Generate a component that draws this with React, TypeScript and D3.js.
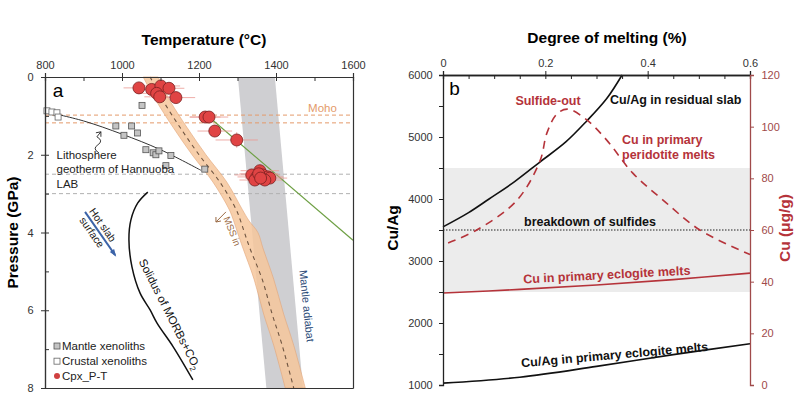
import React, { useEffect, useRef } from 'react';
import * as d3 from 'd3';

// ---- panel a data ----
const tempTicks = [800, 1000, 1200, 1400, 1600];
const pressTicks = [0, 2, 4, 6, 8];

const cpxT = [1044, 1077, 1101, 1122, 1090, 1098, 1140, 1216, 1226, 1241, 1298, 1358, 1337, 1350, 1366, 1379, 1384, 1345, 1371, 1355, 1360];
const cpxP = [0.28, 0.32, 0.23, 0.29, 0.42, 0.51, 0.53, 1.03, 1.03, 1.39, 1.62, 2.41, 2.52, 2.57, 2.52, 2.57, 2.6, 2.65, 2.65, 2.49, 2.6];
const cpxTErr = [40, 45, 50, 40, 45, 40, 50, 40, 50, 45, 55, 50, 45, 50, 45, 40, 45, 40, 45, 50, 40];
const cpxPErr = [0.15, 0.12, 0.15, 0.12, 0.15, 0.15, 0.12, 0.12, 0.15, 0.15, 0.2, 0.15, 0.12, 0.15, 0.12, 0.15, 0.12, 0.15, 0.12, 0.15, 0.12];

const mantleXenoT = [1052, 984, 1025, 1040, 1005, 1062, 1081, 1088, 1096, 1127, 1114, 1215];
const mantleXenoP = [0.73, 1.26, 1.26, 1.44, 1.5, 1.87, 1.95, 2.0, 1.9, 2.02, 2.28, 2.37];
const crustXenoT = [805, 818, 831, 834];
const crustXenoP = [0.87, 0.9, 0.92, 1.03];

const geothermT = [805, 900, 1000, 1100, 1205];
const geothermP = [0.9, 1.13, 1.47, 1.87, 2.4];

const solidusT = [1067, 1041, 1023, 1018, 1026, 1047, 1073, 1091, 1133, 1184];
const solidusP = [2.96, 3.24, 3.68, 4.19, 4.89, 5.56, 5.99, 6.33, 6.94, 7.79];

const mssP = [0, 0.6, 1.3, 2.0, 2.7, 3.4, 3.7, 4.0, 4.4, 5.2, 6.1, 6.9, 8.0];
const mssCenter = [1073, 1106, 1151, 1200, 1254, 1296, 1308, 1318, 1332, 1364, 1390, 1416, 1446];
const mssLeft = [1055, 1088, 1133, 1182, 1236, 1278, 1290, 1300, 1314, 1343, 1368, 1394, 1424];
const mssRight = [1094, 1124, 1169, 1218, 1272, 1312, 1330, 1353, 1366, 1394, 1420, 1446, 1476];

const adiabatP = [0, 8];
const adiabatLeft = [1301, 1375];
const adiabatRight = [1397, 1470];

const greenT = [1226, 1600];
const greenP = [1.03, 4.2];

const mohoP = [0.98, 1.18];
const labP = [2.5, 3.0];

// ---- panel b data ----
const meltTicks = [0, 0.2, 0.4, 0.6];
const cuTicks = [0, 20, 40, 60, 80, 100, 120];

const residualX = [0, 0.05, 0.09, 0.14, 0.19, 0.24, 0.28, 0.32, 0.35];
const residualCuAg = [3550, 3780, 4000, 4280, 4600, 4920, 5250, 5620, 6000];

const peridotiteX = [0.01, 0.066, 0.145, 0.19, 0.203, 0.223, 0.244, 0.281, 0.32, 0.371, 0.43, 0.502, 0.6];
const peridotiteCu = [55, 60, 71.6, 87, 97.5, 105, 106.8, 102.6, 94.8, 82, 71.6, 60, 50.5];

const eclogiteX = [0, 0.15, 0.3, 0.45, 0.6];
const eclogiteCu = [35.6, 37.0, 38.7, 40.8, 43.3];
const eclogiteCuAg = [1030, 1125, 1300, 1490, 1665];

const sulfideBand = [2500, 4500];
const sulfideBreakdown = 3500;

const FONT = '"Liberation Sans", Arial, sans-serif';
const RED = '#b5333a';
const AXRED = '#a04a4a';

export default function App() {
  const svgRef = useRef<SVGSVGElement>(null);

  useEffect(() => {
    const svg = d3.select(svgRef.current);
    svg.selectAll('*').remove();
    svg.style('font-family', FONT);

    // ============ PANEL A ============
    const xA = d3.scaleLinear().domain([800, 1600]).range([45, 353]);
    const yA = d3.scaleLinear().domain([0, 8]).range([77, 388]);
    const a = svg.append('g');

    // mantle adiabat band
    const bandA = d3
      .area<number>()
      .y((_, i) => yA(adiabatP[i]))
      .x0((_, i) => xA(adiabatLeft[i]))
      .x1((_, i) => xA(adiabatRight[i]));
    a.append('path').attr('d', bandA(adiabatP)).attr('fill', '#cfcfd2');

    // dashed reference lines
    mohoP.forEach((p) => {
      a.append('line')
        .attr('x1', xA(800)).attr('x2', xA(1600))
        .attr('y1', yA(p)).attr('y2', yA(p))
        .attr('stroke', '#e49a6a').attr('stroke-width', 1)
        .attr('stroke-dasharray', '4,3');
    });
    labP.forEach((p) => {
      a.append('line')
        .attr('x1', xA(800)).attr('x2', xA(1600))
        .attr('y1', yA(p)).attr('y2', yA(p))
        .attr('stroke', '#b0b0b0').attr('stroke-width', 1)
        .attr('stroke-dasharray', '4,3');
    });

    // MSS-in band
    const mssArea = d3
      .area<number>()
      .curve(d3.curveCatmullRom)
      .y((_, i) => yA(mssP[i]))
      .x0((_, i) => xA(mssLeft[i]))
      .x1((_, i) => xA(mssRight[i]));
    a.append('path')
      .attr('d', mssArea(mssP))
      .attr('fill', '#f6c79c')
      .attr('fill-opacity', 0.85)
      .attr('stroke', '#e3a577')
      .attr('stroke-width', 0.6);
    const mssLine = d3
      .line<number>()
      .curve(d3.curveCatmullRom)
      .x((_, i) => xA(mssCenter[i]))
      .y((_, i) => yA(mssP[i]));
    a.append('path')
      .attr('d', mssLine(mssP))
      .attr('fill', 'none')
      .attr('stroke', '#6e5440')
      .attr('stroke-width', 1.1)
      .attr('stroke-dasharray', '4,4');

    // green adiabat line
    a.append('line')
      .attr('x1', xA(greenT[0])).attr('y1', yA(greenP[0]))
      .attr('x2', xA(greenT[1])).attr('y2', yA(greenP[1]))
      .attr('stroke', '#6d9f43').attr('stroke-width', 1.2);

    // geotherm
    const geoLine = d3
      .line<number>()
      .curve(d3.curveCatmullRom)
      .x((_, i) => xA(geothermT[i]))
      .y((_, i) => yA(geothermP[i]));
    a.append('path')
      .attr('d', geoLine(geothermT))
      .attr('fill', 'none')
      .attr('stroke', '#333')
      .attr('stroke-width', 1);

    // solidus
    const solLine = d3
      .line<number>()
      .curve(d3.curveCatmullRom)
      .x((_, i) => xA(solidusT[i]))
      .y((_, i) => yA(solidusP[i]));
    a.append('path')
      .attr('d', solLine(solidusT))
      .attr('fill', 'none')
      .attr('stroke', '#111')
      .attr('stroke-width', 1.5);

    // xenoliths
    const sq = 6;
    crustXenoT.forEach((t, i) => {
      a.append('rect')
        .attr('x', xA(t) - sq / 2).attr('y', yA(crustXenoP[i]) - sq / 2)
        .attr('width', sq).attr('height', sq)
        .attr('fill', '#fff').attr('stroke', '#666').attr('stroke-width', 0.8);
    });
    mantleXenoT.forEach((t, i) => {
      a.append('rect')
        .attr('x', xA(t) - sq / 2).attr('y', yA(mantleXenoP[i]) - sq / 2)
        .attr('width', sq).attr('height', sq)
        .attr('fill', '#c4c4c4').attr('stroke', '#555').attr('stroke-width', 0.8);
    });

    // cpx error bars + points
    cpxT.forEach((t, i) => {
      a.append('line')
        .attr('x1', xA(t - cpxTErr[i])).attr('x2', xA(t + cpxTErr[i]))
        .attr('y1', yA(cpxP[i])).attr('y2', yA(cpxP[i]))
        .attr('stroke', '#ec9a94').attr('stroke-width', 1).attr('opacity', 0.8);
      a.append('line')
        .attr('x1', xA(t)).attr('x2', xA(t))
        .attr('y1', yA(cpxP[i] - cpxPErr[i])).attr('y2', yA(cpxP[i] + cpxPErr[i]))
        .attr('stroke', '#ec9a94').attr('stroke-width', 1).attr('opacity', 0.8);
    });
    cpxT.forEach((t, i) => {
      a.append('circle')
        .attr('cx', xA(t)).attr('cy', yA(cpxP[i])).attr('r', 6)
        .attr('fill', '#e04444').attr('stroke', '#7a1f1f').attr('stroke-width', 0.8);
    });

    // axes A
    const axTop = a.append('g').attr('transform', `translate(0,${yA(0)})`);
    axTop.call(d3.axisTop(xA).tickValues(tempTicks).tickSize(4).tickFormat(d3.format('d')));
    axTop.call((g) => g.selectAll('.tick text').attr('font-size', 11).attr('fill', '#333').attr('dy', '-0.1em'));
    const axTopMinor = a.append('g').attr('transform', `translate(0,${yA(0)})`);
    axTopMinor.call(d3.axisBottom(xA).tickValues(d3.range(800, 1601, 100)).tickSize(4).tickFormat(() => ''));

    const axLeft = a.append('g').attr('transform', `translate(${xA(800)},0)`);
    axLeft.call(d3.axisLeft(yA).tickValues(pressTicks).tickSize(4).tickFormat(d3.format('d')));
    axLeft.call((g) => g.selectAll('.tick text').attr('font-size', 11).attr('fill', '#333').attr('dx', '-0.4em'));
    const axLeftMinor = a.append('g').attr('transform', `translate(${xA(800)},0)`);
    axLeftMinor.call(d3.axisRight(yA).tickValues(d3.range(0, 9, 1)).tickSize(4).tickFormat(() => ''));

    const axBottom = a.append('g').attr('transform', `translate(0,${yA(8)})`);
    axBottom.call(d3.axisBottom(xA).tickValues([]).tickSizeOuter(0));
    const axRight = a.append('g').attr('transform', `translate(${xA(1600)},0)`);
    axRight.call(d3.axisRight(yA).tickValues([]).tickSizeOuter(0));
    a.selectAll('.domain').attr('stroke', '#333').attr('stroke-width', 1.2);
    a.selectAll('.tick line').attr('stroke', '#333');

    // panel a text
    a.append('text').attr('x', 204).attr('y', 45).attr('text-anchor', 'middle')
      .attr('font-size', 15.5).attr('font-weight', 'bold').text('Temperature (°C)');
    a.append('text').attr('transform', `translate(18,${yA(4)}) rotate(-90)`).attr('text-anchor', 'middle')
      .attr('font-size', 15.5).attr('font-weight', 'bold').text('Pressure (GPa)');
    a.append('text').attr('x', xA(820)).attr('y', yA(0) + 20).attr('font-size', 19).text('a');
    a.append('text').attr('x', xA(1558)).attr('y', yA(0.91)).attr('text-anchor', 'end')
      .attr('font-size', 11.5).attr('fill', '#e49a6a').text('Moho');
    a.append('text').attr('x', xA(830)).attr('y', yA(2.11)).attr('font-size', 11.5).attr('fill', '#222').text('Lithosphere');
    a.append('text').attr('x', xA(830)).attr('y', yA(2.46)).attr('font-size', 11.5).attr('fill', '#222').text('geotherm of Hannuoba');
    a.append('text').attr('x', xA(830)).attr('y', yA(2.86)).attr('font-size', 11.5).attr('fill', '#222').text('LAB');

    // squiggle arrow for geotherm
    const sx = xA(940), sy = yA(1.95);
    a.append('path')
      .attr('d', `M${sx},${sy} q-7,-4 -1,-8 q6,-4 -1,-8 l4,-5`)
      .attr('fill', 'none').attr('stroke', '#222').attr('stroke-width', 0.9);
    a.append('path')
      .attr('d', `M${sx + 2},${sy - 21} l-5,1 M${sx + 2},${sy - 21} l0,5`)
      .attr('fill', 'none').attr('stroke', '#222').attr('stroke-width', 0.9);

    // hot slab arrow
    const hx1 = xA(904), hy1 = yA(3.47), hx2 = xA(982), hy2 = yA(4.58);
    const ang = Math.atan2(hy2 - hy1, hx2 - hx1);
    a.append('line').attr('x1', hx1).attr('y1', hy1).attr('x2', hx2).attr('y2', hy2)
      .attr('stroke', '#3b63a8').attr('stroke-width', 2);
    const ah = 6;
    a.append('path')
      .attr('d', `M${hx2 + 2 * Math.cos(ang)},${hy2 + 2 * Math.sin(ang)} L${hx2 - ah * Math.cos(ang - 0.45)},${hy2 - ah * Math.sin(ang - 0.45)} L${hx2 - ah * Math.cos(ang + 0.45)},${hy2 - ah * Math.sin(ang + 0.45)} Z`)
      .attr('fill', '#3b63a8');
    const angDeg = (ang * 180) / Math.PI;
    a.append('text').attr('transform', `translate(${xA(942)},${yA(3.86)}) rotate(${angDeg})`)
      .attr('text-anchor', 'middle').attr('font-size', 10.5).attr('fill', '#222').text('Hot slab');
    a.append('text').attr('transform', `translate(${xA(914)},${yA(4.05)}) rotate(${angDeg})`)
      .attr('text-anchor', 'middle').attr('font-size', 10.5).attr('fill', '#222').text('surface');

    // solidus label
    const solText = a.append('text')
      .attr('transform', `translate(${xA(1115)},${yA(6.15)}) rotate(63)`)
      .attr('text-anchor', 'middle').attr('font-size', 11.5).attr('fill', '#111');
    solText.append('tspan').text('Solidus of MORBs+CO');
    solText.append('tspan').attr('font-size', 8).attr('dy', 3).text('2');

    // MSS in label
    a.append('text').attr('transform', `translate(${xA(1278)},${yA(4.0)}) rotate(68)`)
      .attr('text-anchor', 'middle').attr('font-size', 9.5).attr('fill', '#9a6a44').text('MSS in');
    a.append('path')
      .attr('d', `M${xA(1270)},${yA(3.47)} L${xA(1244)},${yA(3.73)} M${xA(1244)},${yA(3.73)} l5,-1 M${xA(1244)},${yA(3.73)} l0,-5`)
      .attr('fill', 'none').attr('stroke', '#9a6a44').attr('stroke-width', 1);

    // mantle adiabat label
    a.append('text').attr('transform', `translate(${xA(1470)},${yA(5.9)}) rotate(84)`)
      .attr('text-anchor', 'middle').attr('font-size', 11).attr('fill', '#2c4b78').text('Mantle adiabat');

    // legend
    const lg = a.append('g').attr('font-size', 11.5).attr('fill', '#222');
    lg.append('rect').attr('x', 54).attr('y', yA(6.92) - 3).attr('width', 6).attr('height', 6)
      .attr('fill', '#c4c4c4').attr('stroke', '#555').attr('stroke-width', 0.8);
    lg.append('text').attr('x', 62).attr('y', yA(6.92) + 4).text('Mantle xenoliths');
    lg.append('rect').attr('x', 54).attr('y', yA(7.31) - 3).attr('width', 6).attr('height', 6)
      .attr('fill', '#fff').attr('stroke', '#666').attr('stroke-width', 0.8);
    lg.append('text').attr('x', 62).attr('y', yA(7.31) + 4).text('Crustal xenoliths');
    lg.append('circle').attr('cx', 57).attr('cy', yA(7.69)).attr('r', 3).attr('fill', '#d04040');
    lg.append('text').attr('x', 62).attr('y', yA(7.69) + 4).text('Cpx_P-T');

    // ============ PANEL B ============
    const xB = d3.scaleLinear().domain([0, 0.6]).range([443, 750]);
    const yB = d3.scaleLinear().domain([1000, 6000]).range([385, 75]);
    const yBR = d3.scaleLinear().domain([0, 120]).range([385, 75]);
    const b = svg.append('g');

    b.append('rect')
      .attr('x', xB(0)).attr('y', yB(sulfideBand[1]))
      .attr('width', xB(0.6) - xB(0)).attr('height', yB(sulfideBand[0]) - yB(sulfideBand[1]))
      .attr('fill', '#ececec');
    b.append('line')
      .attr('x1', xB(0)).attr('x2', xB(0.6))
      .attr('y1', yB(sulfideBreakdown)).attr('y2', yB(sulfideBreakdown))
      .attr('stroke', '#222').attr('stroke-width', 1).attr('stroke-dasharray', '1.5,1.5');

    const lineL = d3.line<[number, number]>().curve(d3.curveCatmullRom)
      .x((d) => xB(d[0])).y((d) => yB(d[1]));
    const lineR = d3.line<[number, number]>().curve(d3.curveCatmullRom)
      .x((d) => xB(d[0])).y((d) => yBR(d[1]));

    b.append('path').attr('d', lineL(residualX.map((x, i) => [x, residualCuAg[i]])))
      .attr('fill', 'none').attr('stroke', '#111').attr('stroke-width', 1.6);
    b.append('path').attr('d', lineR(peridotiteX.map((x, i) => [x, peridotiteCu[i]])))
      .attr('fill', 'none').attr('stroke', RED).attr('stroke-width', 1.6).attr('stroke-dasharray', '8,6');
    b.append('path').attr('d', lineR(eclogiteX.map((x, i) => [x, eclogiteCu[i]])))
      .attr('fill', 'none').attr('stroke', RED).attr('stroke-width', 1.6);
    b.append('path').attr('d', lineL(eclogiteX.map((x, i) => [x, eclogiteCuAg[i]])))
      .attr('fill', 'none').attr('stroke', '#111').attr('stroke-width', 1.6);

    // axes B
    const bTop = b.append('g').attr('transform', `translate(0,${yB(6000)})`);
    bTop.call(d3.axisTop(xB).tickValues(meltTicks).tickSize(4).tickFormat((d) => (d === 0 ? '0' : d3.format('.1f')(d as number))));
    bTop.call((g) => g.selectAll('.tick text').attr('font-size', 11).attr('fill', '#333').attr('dy', '-0.1em'));
    const bTopMinor = b.append('g').attr('transform', `translate(0,${yB(6000)})`);
    bTopMinor.call(d3.axisBottom(xB).tickValues(d3.range(0, 0.601, 0.05)).tickSize(4).tickFormat(() => ''));

    const bLeft = b.append('g').attr('transform', `translate(${xB(0)},0)`);
    bLeft.call(d3.axisLeft(yB).tickValues(d3.range(1000, 6001, 500)).tickSize(4)
      .tickFormat((d) => ((d as number) % 1000 === 0 ? String(d) : '')));
    bLeft.call((g) => g.selectAll('.tick text').attr('font-size', 11).attr('fill', '#333').attr('dx', '-0.3em'));

    const bRight = b.append('g').attr('transform', `translate(${xB(0.6)},0)`);
    bRight.call(d3.axisRight(yBR).tickValues(cuTicks).tickSize(4).tickFormat(d3.format('d')));
    bRight.call((g) => g.selectAll('.tick text').attr('font-size', 11).attr('fill', AXRED).attr('dx', '0.4em'));
    b.selectAll('.domain').attr('stroke', '#222').attr('stroke-width', 1.3);
    b.selectAll('.tick line').attr('stroke', '#222');
    bRight.selectAll('.domain').attr('stroke', AXRED);
    bRight.selectAll('.tick line').attr('stroke', AXRED);

    // panel b text
    b.append('text').attr('x', 607).attr('y', 43).attr('text-anchor', 'middle')
      .attr('font-size', 15.5).attr('font-weight', 'bold').text('Degree of melting (%)');
    b.append('text').attr('transform', `translate(398,228) rotate(-90)`).attr('text-anchor', 'middle')
      .attr('font-size', 15.5).attr('font-weight', 'bold').text('Cu/Ag');
    b.append('text').attr('transform', `translate(790,228) rotate(-90)`).attr('text-anchor', 'middle')
      .attr('font-size', 15.5).attr('font-weight', 'bold').attr('fill', RED).text('Cu (μg/g)');
    b.append('text').attr('x', xB(0.012)).attr('y', yB(6000) + 20).attr('font-size', 19).text('b');

    const bold = (x: number, y: number, txt: string, color: string, anchor = 'start', rot = 0) =>
      b.append('text').attr('transform', `translate(${x},${y}) rotate(${rot})`).attr('text-anchor', anchor)
        .attr('font-size', 12.5).attr('font-weight', 'bold').attr('fill', color).text(txt);

    bold(548, 105, 'Sulfide-out', RED, 'middle');
    bold(610, 104, 'Cu/Ag in residual slab', '#111');
    bold(622, 144, 'Cu in primary', RED);
    bold(622, 159, 'peridotite melts', RED);
    bold(590, 226, 'breakdown of sulfides', '#111', 'middle');
    bold(607, 279, 'Cu in primary eclogite melts', RED, 'middle', -3);
    bold(615, 359, 'Cu/Ag in primary eclogite melts', '#111', 'middle', -5);
  }, []);

  return (
    <svg
      ref={svgRef}
      width={800}
      height={395}
      style={{ position: 'absolute', left: 0, top: 0, background: '#fff' }}
    />
  );
}
